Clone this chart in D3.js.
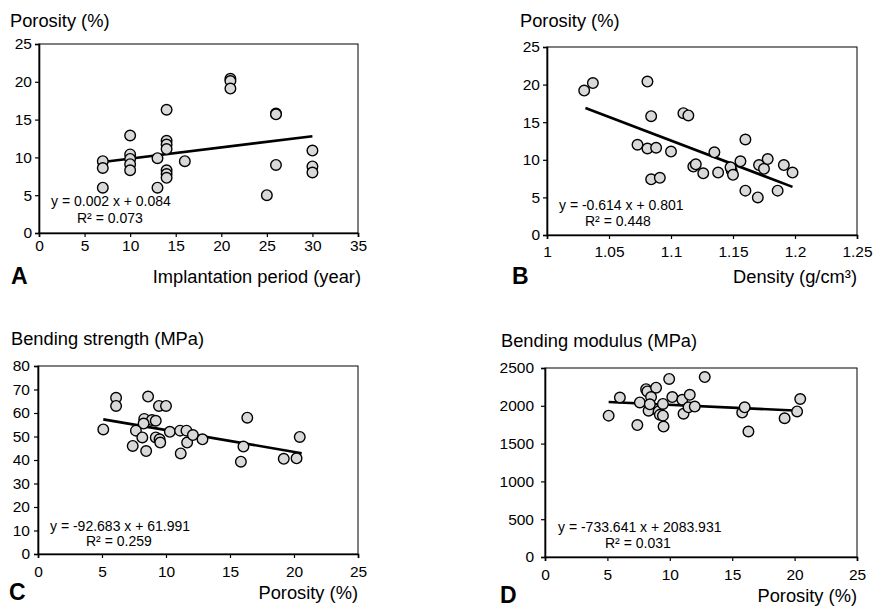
<!DOCTYPE html>
<html><head><meta charset="utf-8">
<script src="https://cdn.jsdelivr.net/npm/d3@7"></script>
<style>
body{margin:0;background:#fff;}
svg{display:block;font-family:"Liberation Sans",Arial,Helvetica,sans-serif;}
</style></head>
<body><svg id="c" width="873" height="609"></svg>
<script>
// ---- Data ----
const aPeriod   = [7,7,7,10,10,10,10,10,13,13,14,14,14,14,14,14,14,16,21,21,21,25,26,26,26,30,30,30];
const aPorosity = [9.5,8.6,6.0,12.9,10.4,9.8,9.1,8.3,9.9,6.0,16.3,12.2,11.7,11.1,8.3,7.8,7.3,9.5,20.4,20.1,19.1,5.0,15.8,15.7,9.0,10.9,8.8,8.0];
const aTrendX = [7,30], aTrendY = [9.4,12.8];

const bDensity  = [1.030,1.037,1.081,1.084,1.073,1.081,1.088,1.100,1.084,1.091,1.110,1.114,1.160,1.135,1.118,1.120,1.126,1.138,1.149,1.148,1.150,1.156,1.171,1.175,1.178,1.191,1.198,1.160,1.170,1.186];
const bPorosity = [19.2,20.2,20.4,15.8,12.0,11.5,11.6,11.1,7.4,7.6,16.2,15.9,12.7,11.0,9.1,9.4,8.2,8.3,8.5,9.0,8.0,9.8,9.3,8.8,10.1,9.3,8.3,5.9,5.0,5.9];
const bTrendX = [1.031,1.198], bTrendY = [16.9,6.4];

const cPorosity = [5.1,6.1,6.1,8.6,9.45,10.0,8.3,8.9,9.2,8.25,7.65,8.15,7.4,8.45,9.2,9.5,9.55,10.3,11.1,11.6,11.65,12.1,12.85,11.15,16.35,16.05,15.85,19.2,20.2,20.45];
const cStrength = [53.0,66.5,63.0,67.0,63.0,63.0,57.5,57.0,56.7,55.5,52.5,49.6,46.0,43.8,49.6,48.8,47.4,52.0,52.5,52.5,47.4,50.6,48.8,42.8,58.0,45.7,39.3,40.5,40.7,49.8];
const cTrendX = [5.1,20.6], cTrendY = [57.3,42.9];

const dPorosity = [5.1,6.0,7.4,7.6,8.1,8.2,8.9,8.5,8.3,8.4,9.1,9.2,9.45,9.45,9.5,9.95,10.2,11.0,11.1,11.5,11.6,12.0,12.8,15.8,16.0,16.3,19.2,20.2,20.45];
const dModulus  = [1870,2110,1745,2045,2220,2190,2240,2115,1935,2020,1925,1880,2025,1870,1725,2355,2115,2080,1895,1980,2145,1990,2380,1910,1980,1660,1835,1925,2090];
const dTrendX = [5.1,20.4], dTrendY = [2050,1935];

const aXTicks = [0,5,10,15,20,25,30,35], aYTicks = [0,5,10,15,20,25];
const bXTicks = [1,1.05,1.1,1.15,1.2,1.25], bYTicks = [0,5,10,15,20,25];
const cXTicks = [0,5,10,15,20,25], cYTicks = [0,10,20,30,40,50,60,70,80];
const dXTicks = [0,5,10,15,20,25], dYTicks = [0,500,1000,1500,2000,2500];

const yTitles = ["Porosity (%)","Porosity (%)","Bending strength (MPa)","Bending modulus (MPa)"];
const xTitles = ["Implantation period (year)","Density (g/cm³)","Porosity (%)","Porosity (%)"];
const letters = ["A","B","C","D"];
const eqLines = ["y = 0.002 x + 0.084","y = -0.614 x + 0.801","y = -92.683 x + 61.991","y = -733.641 x + 2083.931"];
const r2Lines = ["R² = 0.073","R² = 0.448","R² = 0.259","R² = 0.031"];

// ---- Layout ----
const svg = d3.select("#c");
const panels = [
  {xs:aPeriod, ys:aPorosity, tx:aTrendX, ty:aTrendY, xt:aXTicks, yt:aYTicks, xd:[0,35], yd:[0,25],
   L:39,R:358,T:44,B:233, xlabOff:19, ylabGap:7, title:[10,27], letter:[11,284], xtitle:[361,283], eq:[51,206], r2:[77,223]},
  {xs:bDensity, ys:bPorosity, tx:bTrendX, ty:bTrendY, xt:bXTicks, yt:bYTicks, xd:[1,1.25], yd:[0,25],
   L:547,R:857,T:47,B:235, xlabOff:23, ylabGap:7, title:[520,27], letter:[512,284], xtitle:[857,283], eq:[559,210], r2:[585,226]},
  {xs:cPorosity, ys:cStrength, tx:cTrendX, ty:cTrendY, xt:cXTicks, yt:cYTicks, xd:[0,25], yd:[0,80],
   L:38,R:358,T:366,B:554, xlabOff:24, ylabGap:8, title:[11,345], letter:[9,600], xtitle:[358,599], eq:[50,531], r2:[86,546]},
  {xs:dPorosity, ys:dModulus, tx:dTrendX, ty:dTrendY, xt:dXTicks, yt:dYTicks, xd:[0,25], yd:[0,2500],
   L:545,R:857,T:368,B:557, xlabOff:24, ylabGap:11, title:[501,347], letter:[500,603], xtitle:[857,602], eq:[558,532], r2:[605,548]}
];

panels.forEach((p,i)=>{
  const x = d3.scaleLinear().domain(p.xd).range([p.L,p.R]);
  const y = d3.scaleLinear().domain(p.yd).range([p.B,p.T]);
  const g = svg.append("g");
  g.append("rect").attr("x",p.L).attr("y",p.T).attr("width",p.R-p.L).attr("height",p.B-p.T)
    .attr("fill","none").attr("stroke","#000").attr("stroke-width",1);
  const xa = g.append("g").attr("transform",`translate(0,${p.B})`)
    .call(d3.axisBottom(x).tickValues(p.xt).tickSize(4).tickPadding(p.xlabOff-16).tickFormat(d3.format("")));
  const ya = g.append("g").attr("transform",`translate(${p.L},0)`)
    .call(d3.axisLeft(y).tickValues(p.yt).tickSize(4).tickPadding(p.ylabGap-4).tickFormat(d3.format("")));
  [xa,ya].forEach(a=>{
    a.select(".domain").attr("stroke","#000").attr("stroke-width",1.6);
    a.selectAll(".tick line").attr("stroke","#000").attr("stroke-width",1.2);
    a.selectAll("text").attr("fill","#000").style("font-size","15.5px").style("font-family","'Liberation Sans',Arial,sans-serif");
  });
  const lineData = p.tx.map((v,k)=>[v,p.ty[k]]);
  g.append("path").datum(lineData)
    .attr("d", d3.line().x(d=>x(d[0])).y(d=>y(d[1])))
    .attr("stroke","#000").attr("stroke-width",2.6).attr("fill","none");
  g.selectAll("circle.pt").data(p.xs.map((v,k)=>[v,p.ys[k]])).join("circle")
    .attr("class","pt").attr("cx",d=>x(d[0])).attr("cy",d=>y(d[1])).attr("r",5.3)
    .attr("fill","#d9d9d9").attr("stroke","#000").attr("stroke-width",1.4);
  g.append("text").attr("x",p.title[0]).attr("y",p.title[1]).text(yTitles[i])
    .style("font-size","18.3px");
  g.append("text").attr("x",p.xtitle[0]).attr("y",p.xtitle[1]).attr("text-anchor","end").text(xTitles[i])
    .style("font-size","18.3px");
  g.append("text").attr("x",p.letter[0]).attr("y",p.letter[1]).text(letters[i])
    .style("font-size","23px").style("font-weight","bold");
  g.append("text").attr("x",p.eq[0]).attr("y",p.eq[1]).text(eqLines[i]).style("font-size","14px");
  g.append("text").attr("x",p.r2[0]).attr("y",p.r2[1]).text(r2Lines[i]).style("font-size","14px");
});
</script></body></html>
